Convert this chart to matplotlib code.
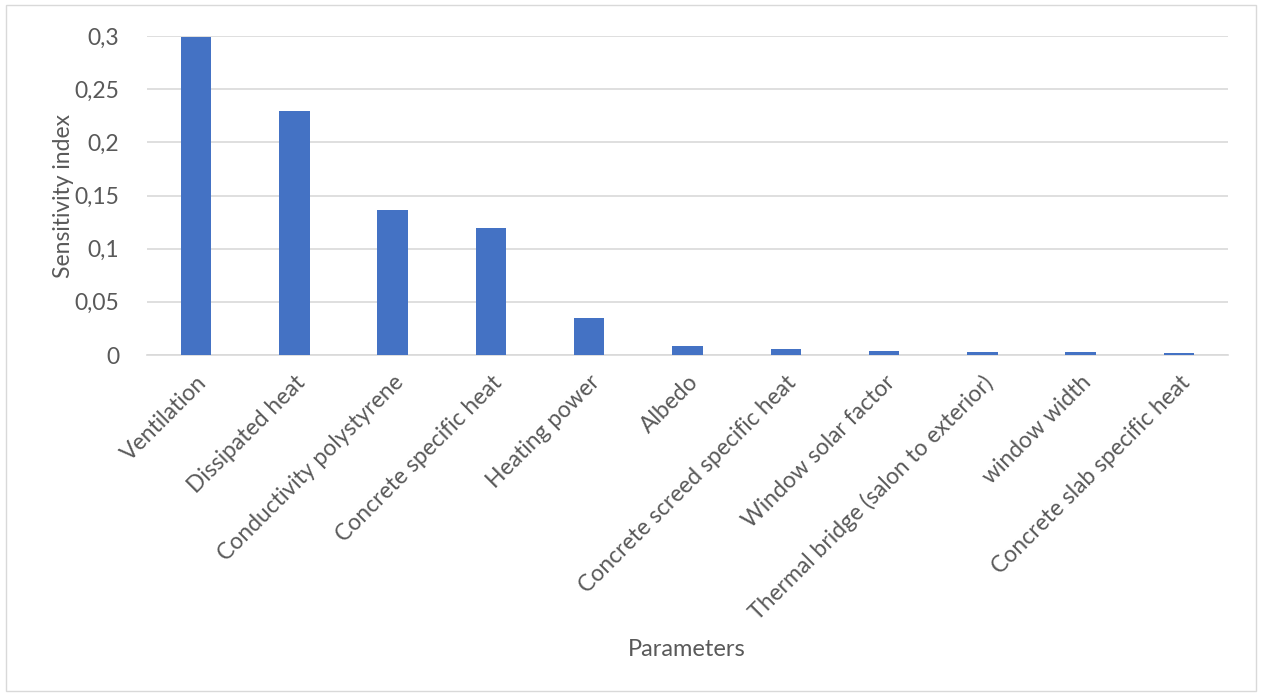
import matplotlib.pyplot as plt
from matplotlib.ticker import FuncFormatter
import numpy as np

# data
params = ["Ventilation", "Dissipated heat", "Conductivity polystyrene",
          "Concrete specific heat", "Heating power", "Albedo",
          "Concrete screed specific heat", "Window solar factor",
          "Thermal bridge (salon to exterior)", "window width",
          "Concrete slab specific heat"]
sens_index = [0.299, 0.229, 0.136, 0.119, 0.035, 0.0088, 0.0052,
              0.0035, 0.0032, 0.0025, 0.0023]
y_ticks = [0, 0.05, 0.1, 0.15, 0.2, 0.25, 0.3]

plt.rcParams['font.family'] = ['Lato', 'DejaVu Sans']
txt_col = "#595959"

fig = plt.figure(figsize=(12.61, 6.95), dpi=100)
ax = fig.add_axes([147 / 1261, 1 - 355 / 695, 1081 / 1261, 319 / 695])

x = np.arange(len(params))
ax.bar(x, sens_index, width=0.31, color="#4472C4", zorder=3)

ax.set_xlim(-0.5, len(params) - 0.5)
ax.set_ylim(0, 0.3)
ax.set_yticks(y_ticks)
ax.yaxis.set_major_formatter(FuncFormatter(lambda v, p: ("%g" % v).replace(".", ",")))
ax.grid(axis="y", color="#D9D9D9", linewidth=1.2, zorder=0)
ax.set_axisbelow(True)
for s in ["top", "right", "left"]:
    ax.spines[s].set_visible(False)
ax.spines["bottom"].set_color("#D9D9D9")
ax.spines["bottom"].set_linewidth(1.2)
ax.tick_params(axis="y", length=0, labelsize=16.5, colors=txt_col, pad=20)
ax.tick_params(axis="x", length=0, labelsize=16.5, colors=txt_col, pad=12)

ax.set_xticks(x)
ax.set_xticklabels(params, rotation=45, ha="right", rotation_mode="anchor")

ax.set_ylabel("Sensitivity index", fontsize=16.5, color=txt_col, labelpad=0)
fig.text(0.545, 1 - 650 / 695, "Parameters", fontsize=17, color=txt_col,
         ha="center", va="center")

# chart border
fig.patches.append(plt.Rectangle((6 / 1261, 4 / 695), 1250 / 1261, 686 / 695,
                                 transform=fig.transFigure, fill=False,
                                 edgecolor="#D9D9D9", linewidth=1))

fig.savefig("out.png", dpi=100)
